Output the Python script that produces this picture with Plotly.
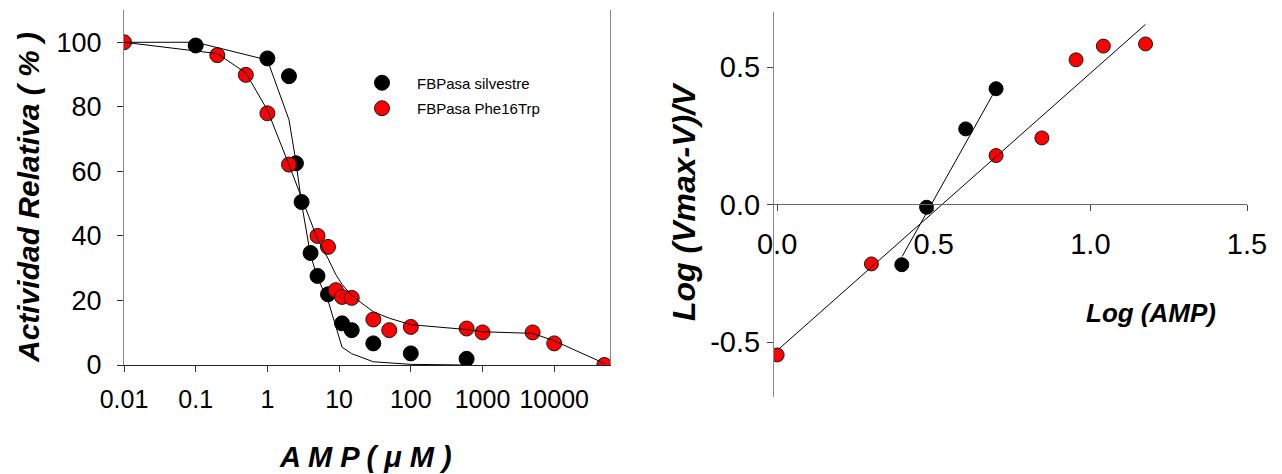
import numpy as np
import plotly.graph_objects as go

FONT = "Arial, Liberation Sans, sans-serif"

# Inhibition curves: relative activity (%) vs AMP concentration (uM)
conc_wt = [0.1, 1, 2, 2.5, 3, 4, 5, 7, 11, 15, 30, 100, 600]
act_wt = [99, 95, 89.5, 62.5, 50.5, 34.7, 27.6, 21.9, 12.9, 10.8, 6.7, 3.6, 1.9]

conc_mut = [0.01, 0.2, 0.5, 1, 2, 5, 7, 9, 11, 15, 30, 50, 100, 600, 1000, 5000, 10000, 50000]
act_mut = [100, 96, 89.9, 78, 62.1, 40, 36.6, 23.2, 21.1, 20.8, 14.1, 10.8, 11.8, 11.3, 10.1, 10.1, 6.7, 0]

# Fitted inhibition curves
fit_wt_x = [0.01, 0.1, 1, 2, 2.5, 3, 4, 5, 7, 11, 15, 30, 100, 600]
fit_wt_y = [100, 100, 94.5, 76, 63, 50, 34, 27, 20, 5.5, 3.5, 1, 0.2, 0]
fit_mut_x = [0.01, 0.2, 0.5, 1, 2, 5, 7, 9, 11, 15, 30, 50, 100, 600, 1000, 5000, 10000, 50000]
fit_mut_y = [100, 96.5, 90.5, 79, 62, 39, 33, 28, 25, 21.5, 16.5, 14.5, 12.5, 11, 10.3, 9.8, 7.5, 0.5]

x_tick_vals = [0.01, 0.1, 1, 10, 100, 1000, 10000]
x_tick_text = ["0.01", "0.1", "1", "10", "100", "1000", "10000"]
y_tick_vals = [0, 20, 40, 60, 80, 100]

# Hill plot: log((Vmax-V)/V) vs log(AMP)
hill_conc_wt = [2.5, 3, 4, 5]
hill_wt = [-0.219, -0.01, 0.275, 0.421]
hill_conc_mut = [1, 2, 5, 7, 9, 11, 15]
hill_mut = [-0.547, -0.216, 0.178, 0.242, 0.526, 0.576, 0.584]

# Linear regressions (end points)
reg_wt_x = [0.399, 0.699]
reg_wt_y = [-0.189, 0.421]
reg_mut_x = [0.0, 1.176]
reg_mut_y = [-0.531, 0.655]

hill_x_ticks = [0.0, 0.5, 1.0, 1.5]
hill_x_text = ["0.0", "0.5", "1.0", "1.5"]
hill_y_ticks = [-0.5, 0.0, 0.5]
hill_y_text = ["-0.5", "0.0", "0.5"]

W, H = 1282, 474


def px_x(p):
    return p / W


def px_y(p):
    return 1 - p / H


black_marker = dict(color="black", size=15, line=dict(color="black", width=1))
red_marker = dict(color="#ff0000", size=15, line=dict(color="#1a1a1a", width=1))

fig = go.Figure()

# Left panel
fig.add_trace(go.Scatter(x=conc_wt, y=act_wt, mode="markers", marker=black_marker,
                         name="FBPasa silvestre", legendgroup="wt", xaxis="x", yaxis="y"))
fig.add_trace(go.Scatter(x=conc_mut, y=act_mut, mode="markers", marker=red_marker,
                         name="FBPasa Phe16Trp", legendgroup="mut", xaxis="x", yaxis="y"))
fig.add_trace(go.Scatter(x=fit_wt_x, y=fit_wt_y, mode="lines", line=dict(color="black", width=1),
                         showlegend=False, xaxis="x", yaxis="y"))
fig.add_trace(go.Scatter(x=fit_mut_x, y=fit_mut_y, mode="lines", line=dict(color="black", width=1),
                         showlegend=False, xaxis="x", yaxis="y"))

# Right panel
fig.add_trace(go.Scatter(x=np.log10(hill_conc_wt), y=hill_wt, mode="markers",
                         marker=dict(black_marker, size=14), showlegend=False, xaxis="x2", yaxis="y2"))
fig.add_trace(go.Scatter(x=np.log10(hill_conc_mut), y=hill_mut, mode="markers",
                         marker=dict(red_marker, size=14), showlegend=False, xaxis="x2", yaxis="y2"))
fig.add_trace(go.Scatter(x=reg_wt_x, y=reg_wt_y, mode="lines", line=dict(color="black", width=1),
                         showlegend=False, xaxis="x2", yaxis="y2"))
fig.add_trace(go.Scatter(x=reg_mut_x, y=reg_mut_y, mode="lines", line=dict(color="black", width=1),
                         showlegend=False, xaxis="x2", yaxis="y2"))

left_x_font = dict(family=FONT, size=25, color="black")
left_y_font = dict(family=FONT, size=27, color="black")
right_tick_font = dict(family=FONT, size=29, color="black")

left_dom_x = [px_x(124), px_x(610)]
left_dom_y = [px_y(365), px_y(10)]
right_dom_x = [px_x(774), px_x(1247)]
right_dom_y = [px_y(397), px_y(12)]

fig.update_layout(
    width=W, height=H,
    margin=dict(l=0, r=0, t=0, b=0, autoexpand=False),
    paper_bgcolor="white", plot_bgcolor="white",
    font=dict(family=FONT, color="black"),
    xaxis=dict(domain=left_dom_x, anchor="y", type="log", range=[-2, np.log10(60000)],
               tickvals=x_tick_vals, ticktext=x_tick_text, tickfont=left_x_font,
               ticks="outside", ticklen=6, tickcolor="#333", showgrid=False, zeroline=False,
               showline=True, linecolor="#222", linewidth=1, ticklabelstandoff=6,
               automargin=False),
    xaxis3=dict(domain=left_dom_x, anchor="y", overlaying="x", side="top", type="log",
                range=[-2, np.log10(60000)], showline=True, linecolor="#888", linewidth=1,
                showticklabels=False, ticks="", showgrid=False, zeroline=False,
                automargin=False),
    yaxis=dict(domain=left_dom_y, anchor="x", range=[0, 110], tickvals=y_tick_vals,
               tickfont=left_y_font, ticks="outside", ticklen=6, tickcolor="#333",
               showgrid=False, zeroline=False, showline=True, linecolor="#888", linewidth=1,
               mirror=True, ticklabelstandoff=10, automargin=False),
    xaxis2=dict(domain=right_dom_x, anchor="free", position=px_y(204), range=[-0.01, 1.5],
                tickvals=hill_x_ticks, ticktext=hill_x_text, tickfont=right_tick_font,
                ticks="outside", ticklen=6, tickcolor="#444", showgrid=False, zeroline=False,
                showline=True, linecolor="#666", linewidth=1, ticklabelstandoff=8,
                automargin=False),
    yaxis2=dict(domain=right_dom_y, anchor="x2", range=[-0.7, 0.7], tickvals=hill_y_ticks,
                ticktext=hill_y_text, tickfont=right_tick_font, ticks="outside", ticklen=6,
                tickcolor="#444", showgrid=False, zeroline=False, showline=True,
                linecolor="#888", linewidth=1, ticklabelstandoff=1, automargin=False),
    legend=dict(x=px_x(347), y=px_y(66.5), xanchor="left", yanchor="top",
                font=dict(family=FONT, size=15, color="black"), bgcolor="rgba(0,0,0,0)",
                traceorder="grouped", tracegroupgap=3, itemwidth=60),
    showlegend=True,
    annotations=[
        dict(text="<b><i>Actividad Relativa ( % )</i></b>", xref="paper", yref="paper",
             x=px_x(28), y=px_y(198), textangle=-90, showarrow=False,
             font=dict(family=FONT, size=30, color="black"),
             xanchor="center", yanchor="middle"),
        dict(text="<b><i>A M P ( \u03bc M )</i></b>", xref="paper", yref="paper",
             x=px_x(365), y=px_y(457), showarrow=False,
             font=dict(family=FONT, size=29, color="black"),
             xanchor="center", yanchor="middle"),
        dict(text="<b><i>Log (AMP)</i></b>", xref="paper", yref="paper",
             x=px_x(1151), y=px_y(313), showarrow=False,
             font=dict(family=FONT, size=26, color="black"),
             xanchor="center", yanchor="middle"),
        dict(text="<b><i>Log (Vmax-V)/V</i></b>", xref="paper", yref="paper",
             x=px_x(684), y=px_y(202), textangle=-90, showarrow=False,
             font=dict(family=FONT, size=32, color="black"),
             xanchor="center", yanchor="middle"),
    ],
)

fig.write_html("out.html")
